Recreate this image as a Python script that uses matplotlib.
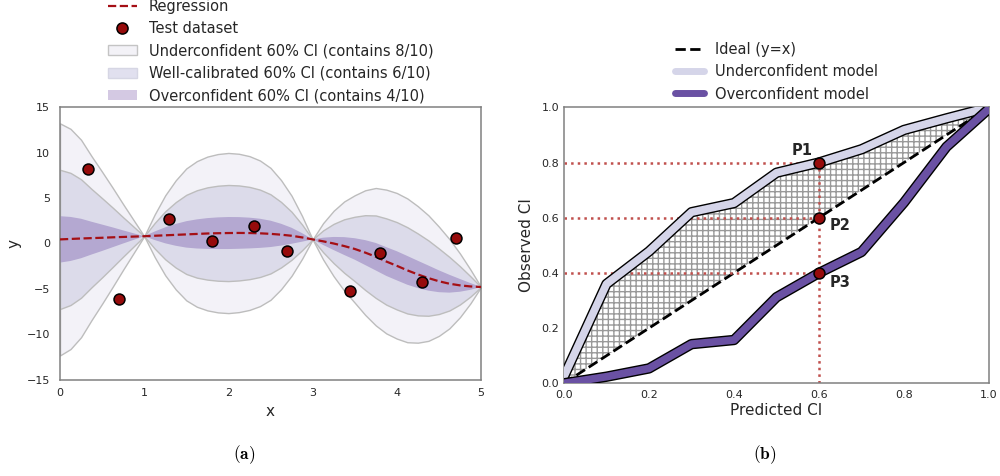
import numpy as np
import matplotlib
matplotlib.use('Agg')
import matplotlib.pyplot as plt
import matplotlib.patheffects as pe
from matplotlib.lines import Line2D
from matplotlib.patches import Patch

plt.rcParams['mathtext.fontset'] = 'cm'
plt.rcParams['hatch.linewidth'] = 1.0

# ---- panel (a): regression with confidence bands ----
grid_x = np.arange(0, 5.0001, 0.125)
reg_mean = [0.45, 0.50, 0.55, 0.59, 0.63, 0.68, 0.72, 0.76, 0.80,
            0.85, 0.90, 0.95, 1.00, 1.05, 1.10, 1.13, 1.15, 1.16, 1.15, 1.12, 1.06, 0.97, 0.85, 0.67, 0.45,
            0.24, 0.00, -0.28, -0.60, -1.00, -1.45, -1.98, -2.45, -2.95, -3.40, -3.80, -4.15, -4.42, -4.60, -4.72, -4.78]
reg_std = [2.55, 2.42, 2.17, 1.80, 1.45, 1.09, 0.72, 0.36, 0.00,
           0.47, 0.88, 1.20, 1.45, 1.60, 1.69, 1.74, 1.76, 1.74, 1.69, 1.60, 1.45, 1.20, 0.88, 0.47, 0.00,
           0.40, 0.72, 0.98, 1.18, 1.37, 1.51, 1.58, 1.60, 1.58, 1.50, 1.38, 1.20, 0.98, 0.70, 0.37, 0.00]
band_labels = ['Underconfident 60% CI (contains 8/10)',
               'Well-calibrated 60% CI (contains 6/10)',
               'Overconfident 60% CI (contains 4/10)']
band_scale = [5.0, 3.0, 1.0]

test_x = [0.33, 0.70, 1.30, 1.80, 2.30, 2.70, 3.45, 3.80, 4.30, 4.70]
test_y = [8.15, -6.15, 2.67, 0.26, 1.90, -0.77, -5.23, -1.06, -4.24, 0.59]

# ---- panel (b): calibration curves ----
pred_ci = [0.0, 0.1, 0.2, 0.3, 0.4, 0.5, 0.6, 0.7, 0.8, 0.9, 1.0]
under_ci = [0.025, 0.36, 0.478, 0.62, 0.653, 0.763, 0.80, 0.848, 0.918, 0.96, 1.0]
over_ci = [0.0, 0.024, 0.054, 0.142, 0.157, 0.312, 0.40, 0.476, 0.655, 0.857, 0.995]
marked_pred = 0.6
marked_obs = [0.8, 0.6, 0.4]
marked_names = ['P1', 'P2', 'P3']

fill_cols = ['#f3f2f8', '#dcdbea', '#b4a8d1']
fill_edges = ['#bdbdbd', '#bdbdbd', 'none']
legend_cols = ['#f3f2f7', '#e1e0ef', '#d4c9e3']
legend_edges = ['#c4c4c4', '#d6d6e4', 'none']
dot_col = '#960b0b'
tick_col = '#262626'
spine_col = '#808080'

fig = plt.figure(figsize=(10, 4.76), dpi=100)
ax1 = fig.add_axes([0.06, 0.2017, 0.421, 0.5735])
ax2 = fig.add_axes([0.564, 0.1947, 0.425, 0.5798])

mean = np.array(reg_mean)
std = np.array(reg_std)
for k, fc, ec in zip(band_scale, fill_cols, fill_edges):
    ax1.fill_between(grid_x, mean - k * std, mean + k * std, facecolor=fc,
                     edgecolor=ec, lw=1.0 if ec != 'none' else 0)
ax1.plot(grid_x, mean, ls='--', color='#a50f15', lw=1.6, zorder=4)
ax1.scatter(test_x, test_y, s=62, c=dot_col, edgecolors='black', linewidths=1.1, zorder=5)
ax1.set_xlim(0, 5)
ax1.set_ylim(-15, 15)
ax1.set_xticks(range(0, 6))
ax1.set_yticks(range(-15, 16, 5))
ax1.set_xlabel('x', fontsize=11, color=tick_col)
ax1.set_ylabel('y', fontsize=11, color=tick_col, labelpad=4)
ax1.tick_params(length=0, labelsize=8, colors=tick_col)
ax1.tick_params(axis='y', pad=7)
ax1.tick_params(axis='x', pad=6)

h1 = [Line2D([], [], ls='--', color='#a50f15', lw=1.6),
      Line2D([], [], ls='none', marker='o', ms=8, mfc=dot_col, mec='black', mew=1.1)]
for lab, fc, ec in zip(band_labels, legend_cols, legend_edges):
    h1.append(Patch(facecolor=fc, edgecolor=ec, lw=1.0, label=lab))
ax1.legend(h1, ['Regression', 'Test dataset'] + band_labels, loc='lower center',
           bbox_to_anchor=(0.5, 0.993), frameon=False, fontsize=10.5, borderaxespad=0,
           labelcolor=tick_col)

# panel (b)
ax2.fill_between(pred_ci, pred_ci, under_ci, facecolor='none', edgecolor='#999999',
                 hatch='+++', lw=0, zorder=1)
ax2.plot([0, 1], [0, 1], ls='--', color='black', lw=2, zorder=2)
for v in marked_obs:
    ax2.plot([0, marked_pred], [v, v], ls=':', color='#c0504d', lw=1.8, zorder=2)
ax2.plot([marked_pred, marked_pred], [0, max(marked_obs)], ls=':', color='#c0504d', lw=1.8, zorder=2)
stroke = [pe.Stroke(linewidth=7.5, foreground='black'), pe.Normal()]
ax2.plot(pred_ci, under_ci, color='#d5d5e9', lw=5.5, path_effects=stroke, zorder=3)
ax2.plot(pred_ci, over_ci, color='#6a51a3', lw=5.5, path_effects=stroke, zorder=3)
ax2.scatter([marked_pred] * 3, marked_obs, s=62, c=dot_col, edgecolors='black',
            linewidths=1.1, zorder=5)
ax2.text(0.585, 0.842, marked_names[0], ha='right', va='center', fontsize=10.5, fontweight='bold', color=tick_col)
ax2.text(0.625, 0.571, marked_names[1], ha='left', va='center', fontsize=10.5, fontweight='bold', color=tick_col)
ax2.text(0.625, 0.365, marked_names[2], ha='left', va='center', fontsize=10.5, fontweight='bold', color=tick_col)
ax2.set_xlim(0, 1)
ax2.set_ylim(0, 1)
ax2.set_xticks(np.arange(0, 1.01, 0.2))
ax2.set_yticks(np.arange(0, 1.01, 0.2))
ax2.xaxis.set_major_formatter(matplotlib.ticker.FormatStrFormatter('%.1f'))
ax2.yaxis.set_major_formatter(matplotlib.ticker.FormatStrFormatter('%.1f'))
ax2.set_xlabel('Predicted CI', fontsize=11, color=tick_col, labelpad=2)
ax2.set_ylabel('Observed CI', fontsize=11, color=tick_col, labelpad=5)
ax2.tick_params(length=0, labelsize=8, colors=tick_col)
ax2.tick_params(axis='x', pad=5)

h2 = [Line2D([], [], ls='--', color='black', lw=2),
      Line2D([], [], color='#d5d5e9', lw=5, solid_capstyle='round'),
      Line2D([], [], color='#6a51a3', lw=5, solid_capstyle='round')]
ax2.legend(h2, ['Ideal (y=x)', 'Underconfident model', 'Overconfident model'],
           loc='lower center', bbox_to_anchor=(0.5, 1.0), frameon=False, fontsize=10.5,
           borderaxespad=0, labelcolor=tick_col)

for ax in (ax1, ax2):
    for s in ax.spines.values():
        s.set_color(spine_col)
        s.set_linewidth(1.1)

fig.text(0.244, 0.044, r'$\mathbf{(a)}$', ha='center', va='center', fontsize=12.5)
fig.text(0.765, 0.044, r'$\mathbf{(b)}$', ha='center', va='center', fontsize=12.5)

fig.savefig('out.png', dpi=100)
